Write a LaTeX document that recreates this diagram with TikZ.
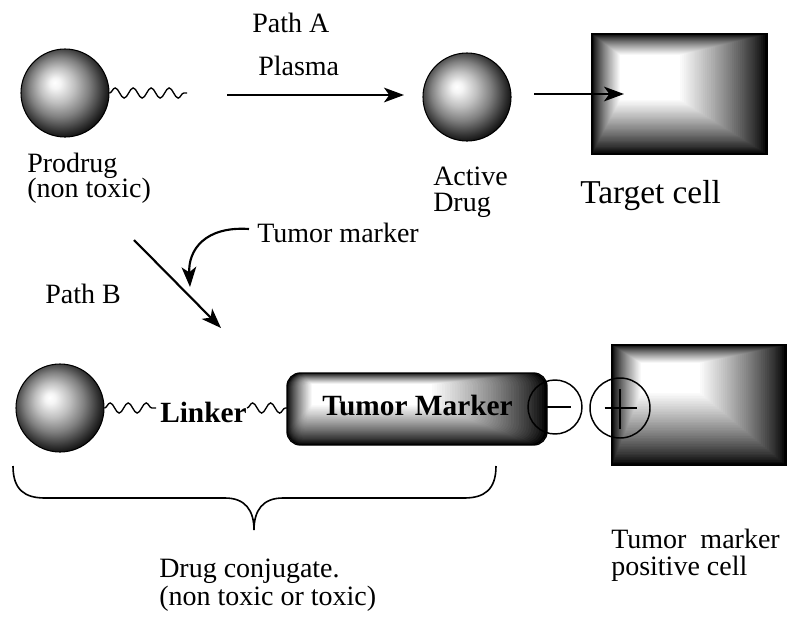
\documentclass[tikz,border=0pt]{standalone}
\usepackage{fontspec}
\setmainfont{Liberation Serif}
\usetikzlibrary{arrows.meta,decorations.pathmorphing}
\pgfdeclareradialshading{mysphere}{\pgfpoint{-6bp}{6bp}}{%
 color(0bp)=(white); color(3bp)=(white!96!black); color(10bp)=(black!25);
 color(17bp)=(black!50); color(24bp)=(black!80); color(29bp)=(black); color(40bp)=(black)}
\tikzset{
 txt/.style={font=\fontsize{21}{19}\selectfont, inner sep=0pt, anchor=base west},
 bigtxt/.style={font=\fontsize{25}{25}\selectfont, inner sep=0pt, anchor=base west},
 boldtxt/.style={font=\bfseries\fontsize{22}{19}\selectfont, inner sep=0pt, anchor=base west},
 sphere/.style={circle, minimum size=66pt, inner sep=0pt, shading=mysphere, draw=black, line width=0.8pt},
 wave/.style={decorate, decoration={snake, amplitude=3.8pt, segment length=13.5pt}, line width=1pt},
 arr/.style={line width=1.6pt, -{Stealth[length=15pt,width=11pt,inset=4pt]}},
 charge/.style={circle, draw, line width=1.1pt, inner sep=0pt},
 chargeline/.style={line width=1.1pt},
}
\newcommand\bevelbox[9]{%
 \foreach \i in {0,...,45}{%
   \pgfmathsetmacro\bt{\i/45}%
   \pgfmathsetmacro\bax{#1+(#5-#1)*\bt}%
   \pgfmathsetmacro\bay{#2+(#6-#2)*\bt}%
   \pgfmathsetmacro\bbx{#3+(#7-#3)*\bt}%
   \pgfmathsetmacro\bby{#4+(#8-#4)*\bt}%
   \pgfmathsetmacro\bc{100*(\bt)^0.8}%
   \pgfmathsetmacro\br{#9*(1-\bt)+0.01}%
   \fill[white!\bc!black, rounded corners=\br pt] (\bax,\bay) rectangle (\bbx,\bby);
 }%
}
\begin{document}
\begin{tikzpicture}[x=0.75pt,y=-0.75pt]
\useasboundingbox (0,0) rectangle (800,622);
\fill[white] (0,0) rectangle (800,622);

% ---------- Path A ----------
\node[sphere] (prodrug) at (65,93) {};
\coordinate (pwave) at (187,93);
\draw[wave] (prodrug.east) -- (pwave);
\node[txt] (prodrugA) at (27,172) {Prodrug};
\node[txt] (prodrugB) at (27,197) {(non toxic)};

\node[txt] (pathA) at (252,32) {Path A};
\node[txt] (plasma) at (258,75) {Plasma};
\coordinate (pa1) at (227,95);
\coordinate (pa2) at (404,95);
\draw[arr] (pa1) -- (pa2);

\node[sphere] (active) at (467,97) {};
\node[txt] (activeA) at (433,185) {Active};
\node[txt] (activeB) at (433,211) {Drug};

% target cell
\bevelbox{592}{34}{767}{154}{620}{55}{680}{100}{0}
\draw[line width=1pt] (592,34) rectangle (767,154);
\coordinate (target) at (679,94);
\coordinate (ta1) at (534,94);
\coordinate (ta2) at (624,94);
\draw[arr] (ta1) -- (ta2);
\node[bigtxt] (targetlbl) at (580,203) {Target cell};

% ---------- Path B ----------
\coordinate (pb1) at (134,240);
\coordinate (pb2) at (221,328);
\draw[arr] (pb1) -- (pb2);
\node[txt] (pathB) at (45,303) {Path B};
\node[txt] (tmlbl) at (257,242) {Tumor marker};
\coordinate (tm1) at (249,229);
\coordinate (tm2) at (190,287);
\draw[arr] (tm1) .. controls (205,226) and (188,250) .. (tm2);

% conjugate
\node[sphere] (conj) at (60,408) {};
\node[boldtxt] (linker) at (160,422) {Linker};
\coordinate (w1b) at (156,408);
\draw[wave] (conj.east) -- (w1b);
\coordinate (w2a) at (247,408);
\coordinate (w2b) at (290,408);
\draw[wave] (w2a) -- (w2b);

\bevelbox{287}{373}{547}{445}{312}{384}{432}{405}{11}
\draw[line width=1pt, rounded corners=10pt] (287,373) rectangle (547,445);
\node[boldtxt] (tmbox) at (322,415) {Tumor Marker};

% positive cell
\bevelbox{612}{345}{786}{465}{641}{363}{700}{393}{0}
\draw[line width=1pt] (612,345) rectangle (786,465);

% charges
\node[charge, minimum size=40.5pt] (minus) at (555,407) {};
\draw[chargeline] ([xshift=-6pt]minus.center) -- ([xshift=12pt]minus.center);
\node[charge, minimum size=45pt] (plus) at (620,408) {};
\draw[chargeline] ([xshift=-11.5pt]plus.center) -- ([xshift=12.5pt]plus.center);
\draw[chargeline] ([yshift=14pt]plus.center) -- ([yshift=-16pt]plus.center);

% brace
\coordinate (brL) at (13,466);
\coordinate (brR) at (496,466);
\coordinate (brT) at (254,530);
\draw[line width=1.2pt] (brL) .. controls (13,490) and (25,498) .. (45,498) -- (225,498)
  .. controls (245,498) and (254,510) .. (brT)
  .. controls (254,510) and (263,498) .. (283,498) -- (464,498)
  .. controls (484,498) and (496,490) .. (brR);

\node[txt] (dcA) at (159,577) {Drug conjugate.};
\node[txt] (dcB) at (159,605) {(non toxic or toxic)};
\node[txt] (tpA) at (611,548) {Tumor\ \ marker};
\node[txt] (tpB) at (611,575) {positive cell};
\end{tikzpicture}
\end{document}
